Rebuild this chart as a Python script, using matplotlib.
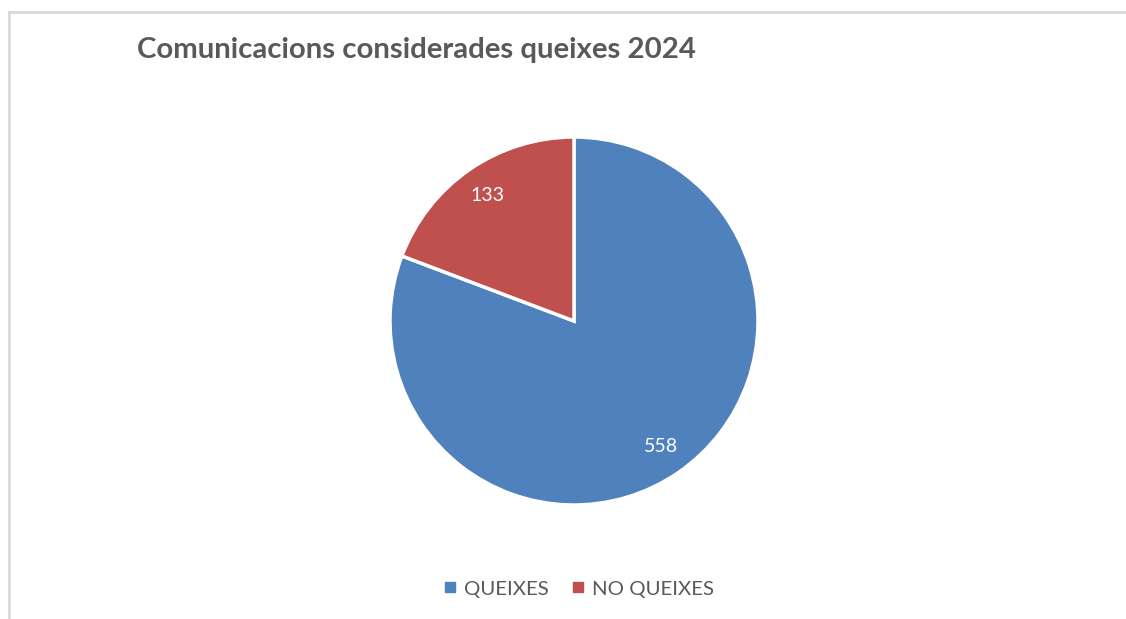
import numpy as np
import matplotlib.pyplot as plt
from matplotlib.lines import Line2D

# ==========================
# Dades
# ==========================
categories = ["QUEIXES", "NO QUEIXES"]
values = [558, 133]
colors = ["#4F81BD", "#C0504D"]
title = "Comunicacions considerades queixes 2024"

plt.rcParams["font.family"] = ["Lato", "DejaVu Sans"]

W, H = 1126, 619
fig = plt.figure(figsize=(W / 100, H / 100), dpi=100)
fig.patch.set_facecolor("white")

# marc del gràfic (línia superior i esquerra)
border = "#D9D9D9"
fig.add_artist(Line2D([9 / W, 9 / W], [0, 1 - 12 / H], color=border, lw=2))
fig.add_artist(Line2D([9 / W, 1], [1 - 12 / H, 1 - 12 / H], color=border, lw=2))

# pastís
cx, cy, r = 574, 321, 184
ax = fig.add_axes([(cx - r) / W, (H - cy - r) / H, 2 * r / W, 2 * r / H])
wedges, texts = ax.pie(
    values,
    colors=colors,
    startangle=90,
    counterclock=False,
    radius=1,
    wedgeprops=dict(edgecolor="white", linewidth=2.5),
)
for w, v in zip(wedges, values):
    ang = np.deg2rad((w.theta1 + w.theta2) / 2)
    ax.text(0.83 * np.cos(ang), 0.83 * np.sin(ang), str(v),
            color="white", fontsize=14, ha="center", va="center")
ax.set_xlim(-1, 1)
ax.set_ylim(-1, 1)
ax.axis("off")

# títol
fig.text(137 / W, 1 - 50 / H, title, fontsize=21.2, fontweight="bold",
         color="#595959", ha="left", va="center")

# llegenda
handles = [Line2D([], [], marker="s", linestyle="none", markersize=7,
                  markerfacecolor=c, markeredgecolor=c) for c in colors]
fig.legend(handles, categories, loc="center", bbox_to_anchor=(578 / W, 1 - 589 / H),
           ncol=2, frameon=False, fontsize=14.7, labelcolor="#595959",
           handletextpad=0.3, columnspacing=1.0, handlelength=0.8)

fig.savefig("out.png", dpi=100)
